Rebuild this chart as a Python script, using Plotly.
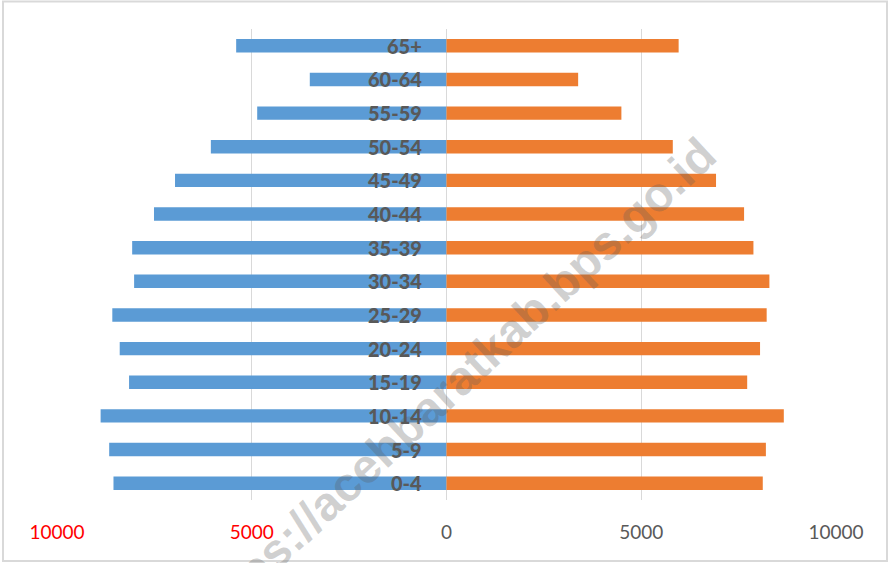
import plotly.graph_objects as go

# ---- data ----
age_groups = ["0-4", "5-9", "10-14", "15-19", "20-24", "25-29", "30-34",
              "35-39", "40-44", "45-49", "50-54", "55-59", "60-64", "65+"]
male = [8550, 8660, 8880, 8150, 8390, 8580, 8020, 8070, 7510, 6970, 6050, 4860, 3510, 5400]
female = [8120, 8200, 8660, 7720, 8050, 8220, 8290, 7880, 7640, 6920, 5810, 4490, 3380, 5960]
tick_values = [-10000, -5000, 0, 5000, 10000]
tick_labels = ["10000", "5000", "0", "5000", "10000"]
tick_colors = ["red", "red", "#595959", "#595959", "#595959"]
watermark = "https://acehbaratkab.bps.go.id"

W, H = 889, 563
ML, MR, MT, MB = 57, 53, 29, 63
PW, PH = W - ML - MR, H - MT - MB

def px_to_paper(px, py):
    return (px - ML) / PW, (H - MB - py) / PH

fig = go.Figure()
fig.add_trace(go.Bar(y=age_groups, x=[-v for v in male], orientation="h",
                     marker=dict(color="#5b9bd5", line=dict(width=0)),
                     name="Laki-laki", width=0.4))
fig.add_trace(go.Bar(y=age_groups, x=female, orientation="h",
                     marker=dict(color="#ed7d31", line=dict(width=0)),
                     name="Perempuan", width=0.4))

for g in age_groups:
    fig.add_annotation(x=0, y=g, xref="x", yref="y", text=g, showarrow=False,
                       xanchor="right", yanchor="middle", xshift=-23,
                       font=dict(family="Lato, Open Sans, sans-serif", size=20,
                                 color="#595959", weight=900))

wx, wy = px_to_paper(453, 384)
fig.add_annotation(x=wx, y=wy, xref="paper", yref="paper", text="<b>" + watermark + "</b>",
                   showarrow=False, textangle=-43, xanchor="center", yanchor="middle",
                   font=dict(family="Liberation Sans, Arial, sans-serif", size=48,
                             color="rgba(90,90,90,0.28)"))

bx0, by0 = px_to_paper(3, 561)
bx1, by1 = px_to_paper(887, 1.5)
fig.add_shape(type="rect", xref="paper", yref="paper", x0=bx0, y0=by0, x1=bx1, y1=by1,
              line=dict(color="#d9d9d9", width=2), layer="below")

fig.update_layout(
    width=W, height=H,
    margin=dict(l=ML, r=MR, t=MT, b=MB),
    barmode="relative",
    plot_bgcolor="white", paper_bgcolor="white",
    showlegend=False,
    xaxis=dict(range=[-10000, 10000], tickvals=tick_values,
               ticktext=[f'<span style="color:{c}">{t}</span>' for t, c in zip(tick_labels, tick_colors)],
               tickfont=dict(family="Lato, Open Sans, sans-serif", size=19, color="#595959"),
               showgrid=True, gridcolor="#d9d9d9", gridwidth=1,
               zeroline=True, zerolinecolor="#d9d9d9", zerolinewidth=1,
               ticks="outside", ticklen=15, tickcolor="rgba(0,0,0,0)",
               showline=False, fixedrange=True),
    yaxis=dict(categoryorder="array", categoryarray=age_groups,
               range=[-0.5, len(age_groups) - 0.5],
               showticklabels=False, showgrid=False, zeroline=False, showline=False,
               fixedrange=True),
)

fig.write_html("out.html", config={"displayModeBar": False},
               post_script="document.body.style.margin='0';document.body.style.overflow='hidden';")
